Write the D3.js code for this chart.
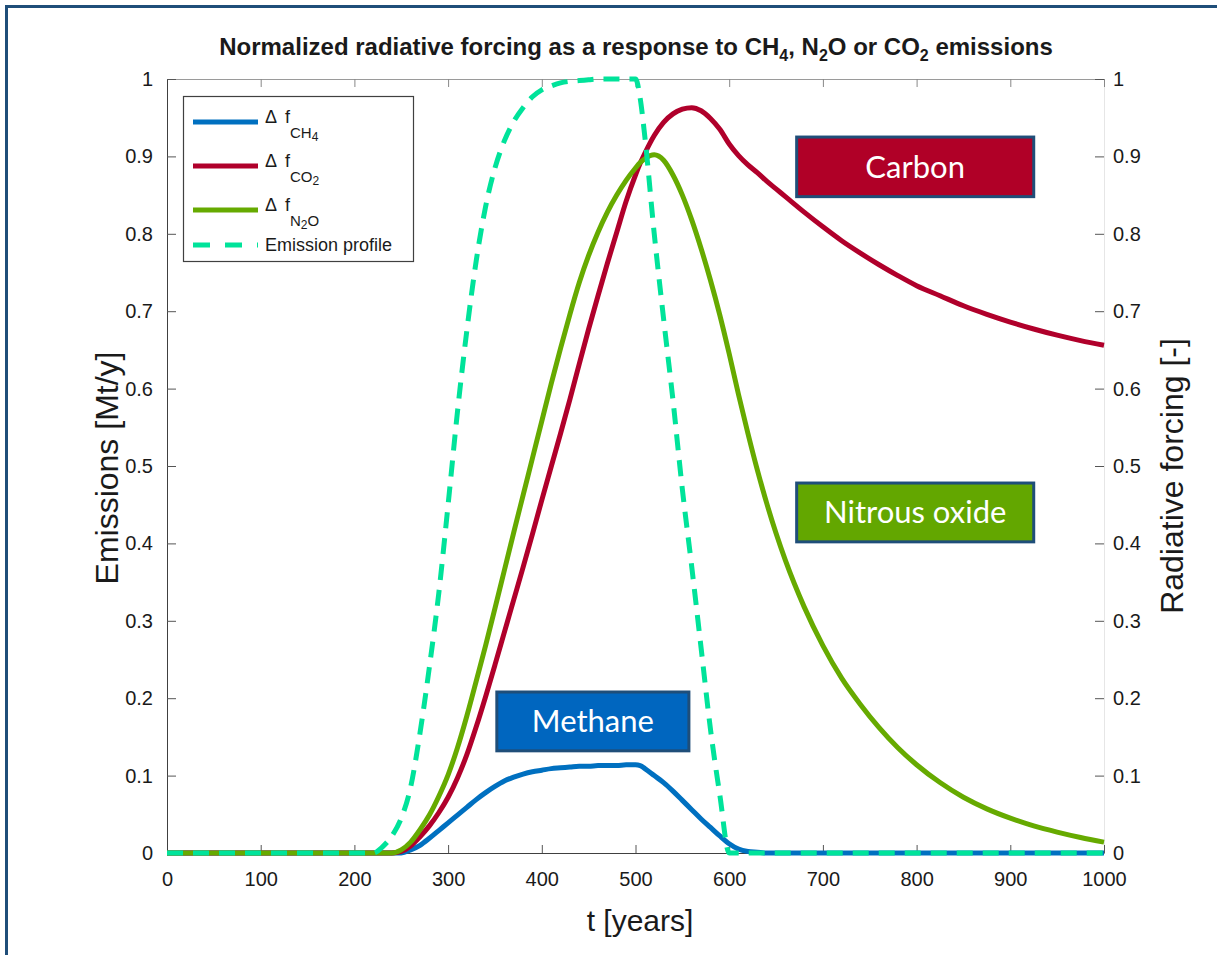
<!DOCTYPE html>
<html>
<head>
<meta charset="utf-8">
<style>
  body { margin: 0; background: #ffffff; }
  svg text { font-family: "Liberation Sans", Arial, Helvetica, sans-serif; fill: #1a1a1a; }
</style>
</head>
<body>
<svg id="chart"></svg>
<script src="https://d3js.org/d3.v7.min.js"></script>
<script>
  const WIDTH = 1217
  const HEIGHT = 955

  // time axis (years) shared by every series
  const years = [0, 200, 220, 230, 240, 250, 260, 270, 280, 290,
    300, 310, 320, 330, 340, 350, 360, 370, 380, 390,
    400, 410, 420, 430, 440, 450, 460, 470, 480, 490,
    500, 505, 510, 520, 530, 540, 550, 560, 570, 580,
    590, 600, 610, 620, 630, 640, 650, 660, 680, 700,
    720, 740, 760, 780, 800, 825, 850, 875, 900, 925,
    950, 975, 1000]

  const emission = [0, 0, 0, 0.008, 0.022, 0.045, 0.085, 0.155, 0.24, 0.335,
    0.45, 0.57, 0.675, 0.765, 0.835, 0.885, 0.92, 0.945, 0.963, 0.977,
    0.986, 0.991, 0.995, 0.997, 0.998, 0.999, 1, 1, 1, 1,
    1, 0.975, 0.925, 0.8, 0.69, 0.585, 0.47, 0.37, 0.265, 0.16,
    0.075, 0, 0, 0, 0, 0, 0, 0, 0, 0,
    0, 0, 0, 0, 0, 0, 0, 0, 0, 0,
    0, 0, 0]

  const ch4 = [0, 0, 0, 0, 0, 0, 0.004, 0.01, 0.019, 0.029,
    0.039, 0.049, 0.059, 0.069, 0.078, 0.086, 0.093, 0.098, 0.102, 0.105,
    0.107, 0.109, 0.110, 0.111, 0.112, 0.112, 0.113, 0.113, 0.113, 0.114,
    0.114, 0.113, 0.109, 0.1, 0.091, 0.08, 0.068, 0.056, 0.044, 0.033,
    0.022, 0.012, 0.005, 0.002, 0.001, 0, 0, 0, 0, 0,
    0, 0, 0, 0, 0, 0, 0, 0, 0, 0,
    0, 0, 0]

  const co2 = [0, 0, 0, 0, 0, 0.002, 0.009, 0.021, 0.035, 0.052,
    0.072, 0.097, 0.127, 0.163, 0.202, 0.243, 0.285, 0.327, 0.369, 0.412,
    0.456, 0.499, 0.542, 0.586, 0.632, 0.677, 0.72, 0.762, 0.802, 0.842,
    0.876, 0.891, 0.904, 0.927, 0.944, 0.955, 0.961, 0.963, 0.959, 0.949,
    0.935, 0.916, 0.901, 0.889, 0.879, 0.868, 0.858, 0.848, 0.828, 0.809,
    0.791, 0.775, 0.76, 0.746, 0.733, 0.72, 0.707, 0.696, 0.686, 0.677,
    0.669, 0.662, 0.656]

  const n2o = [0, 0, 0, 0, 0, 0.004, 0.014, 0.03, 0.049, 0.073,
    0.101, 0.136, 0.177, 0.222, 0.268, 0.316, 0.365, 0.414, 0.462, 0.51,
    0.558, 0.606, 0.652, 0.696, 0.737, 0.772, 0.802, 0.828, 0.85, 0.869,
    0.885, 0.892, 0.897, 0.902, 0.895, 0.876, 0.85, 0.818, 0.781, 0.74,
    0.695, 0.645, 0.592, 0.542, 0.495, 0.452, 0.413, 0.378, 0.318, 0.268,
    0.226, 0.192, 0.162, 0.136, 0.114, 0.091, 0.072, 0.057, 0.045, 0.035,
    0.027, 0.02, 0.014]

  const xTicks = [0, 100, 200, 300, 400, 500, 600, 700, 800, 900, 1000]
  const xTickLabels = ['0', '100', '200', '300', '400', '500', '600', '700', '800', '900', '1000']
  const yTicks = [0, 0.1, 0.2, 0.3, 0.4, 0.5, 0.6, 0.7, 0.8, 0.9, 1]
  const yTickLabels = ['0', '0.1', '0.2', '0.3', '0.4', '0.5', '0.6', '0.7', '0.8', '0.9', '1']

  const boxNames = ['Carbon', 'Nitrous oxide', 'Methane']

  const COLORS = {ch4: '#0070C0', co2: '#B0002B', n2o: '#66AA00', emis: '#00E39A'}
  const FRAME = '#1F4E79'

  let svg = d3.select('#chart')
    .attr('width', WIDTH)
    .attr('height', HEIGHT)

  const x = d3.scaleLinear().domain([0, 1000]).range([167, 1104])
  const y = d3.scaleLinear().domain([0, 1]).range([853, 79])

  // outer slide frame
  svg.append('rect')
    .attr('x', 6.5).attr('y', 6.5)
    .attr('width', 1400).attr('height', 1200)
    .attr('fill', 'none')
    .attr('stroke', FRAME)
    .attr('stroke-width', 3)

  // title with subscripts
  let title = svg.append('text')
    .attr('x', 636).attr('y', 55)
    .attr('text-anchor', 'middle')
    .style('font-size', '24px')
    .style('font-weight', 'bold')
  const titleParts = [['Normalized radiative forcing as a response to CH', 0], ['4', 1], [', N', 0],
    ['2', 1], ['O or CO', 0], ['2', 1], [' emissions', 0]]
  let lowered = false
  titleParts.forEach(function(p) {
    let ts = title.append('tspan').text(p[0])
    if (p[1]) {
      ts.attr('dy', 6).style('font-size', '16px')
      lowered = true
    } else if (lowered) {
      ts.attr('dy', -6)
      lowered = false
    }
  })

  // axes box lines
  svg.append('line').attr('x1', 167).attr('x2', 1104).attr('y1', 79.5).attr('y2', 79.5)
    .attr('stroke', '#9a9a9a')
  svg.append('line').attr('x1', 1104.5).attr('x2', 1104.5).attr('y1', 79).attr('y2', 853)
    .attr('stroke', '#e6e6e6')

  // ticks: inward, MATLAB style
  let bottomAxis = svg.append('g').attr('transform', 'translate(0,853)')
    .call(d3.axisBottom(x).tickValues(xTicks).tickSizeInner(-8).tickSizeOuter(0).tickPadding(19)
      .tickFormat((d, i) => xTickLabels[i]))
  let topAxis = svg.append('g').attr('transform', 'translate(0,79)')
    .call(d3.axisTop(x).tickValues(xTicks).tickSizeInner(-8).tickSizeOuter(0).tickFormat(''))
  let leftAxis = svg.append('g').attr('transform', 'translate(167,0)')
    .call(d3.axisLeft(y).tickValues(yTicks).tickSizeInner(-9).tickSizeOuter(0).tickPadding(14)
      .tickFormat((d, i) => yTickLabels[i]))
  let rightAxis = svg.append('g').attr('transform', 'translate(1104,0)')
    .call(d3.axisRight(y).tickValues(yTicks).tickSizeInner(-9).tickSizeOuter(0).tickPadding(9)
      .tickFormat((d, i) => yTickLabels[i]))

  bottomAxis.select('.domain').attr('stroke', '#404040')
  leftAxis.select('.domain').attr('stroke', '#404040')
  topAxis.select('.domain').remove()
  rightAxis.select('.domain').remove()
  svg.selectAll('.tick line').attr('stroke', '#555')
  topAxis.selectAll('.tick line').attr('stroke', '#888')
  svg.selectAll('.tick text')
    .style('font-size', '20px')
    .style('font-family', '"Liberation Sans", Arial, sans-serif')
    .attr('fill', '#1a1a1a')

  // axis titles
  svg.append('text')
    .attr('transform', 'translate(118,468) rotate(-90)')
    .attr('text-anchor', 'middle')
    .style('font-size', '32px')
    .text('Emissions [Mt/y]')
  svg.append('text')
    .attr('transform', 'translate(1183,476) rotate(-90)')
    .attr('text-anchor', 'middle')
    .style('font-size', '32px')
    .text('Radiative forcing [-]')
  svg.append('text')
    .attr('x', 640).attr('y', 931)
    .attr('text-anchor', 'middle')
    .style('font-size', '30px')
    .text('t [years]')

  // the curves
  const line = d3.line()
    .x((d, i) => x(years[i]))
    .y(d => y(d))
    .curve(d3.curveMonotoneX)

  function drawSeries(values, color, dash) {
    let p = svg.append('path')
      .attr('d', line(values))
      .attr('fill', 'none')
      .attr('stroke', color)
      .attr('stroke-width', 5)
      .attr('stroke-linejoin', 'round')
    if (dash) p.attr('stroke-dasharray', dash)
  }
  drawSeries(ch4, COLORS.ch4)
  drawSeries(co2, COLORS.co2)
  drawSeries(n2o, COLORS.n2o)
  drawSeries(emission, COLORS.emis, '16,10')

  // legend
  let legend = svg.append('g')
  legend.append('rect')
    .attr('x', 183.5).attr('y', 96.5)
    .attr('width', 230).attr('height', 165)
    .attr('fill', '#fff')
    .attr('stroke', '#404040')
    .attr('stroke-width', 1.2)

  const legendRows = [
    {color: COLORS.ch4, sub: 'CH', subsub: '4', y: 122},
    {color: COLORS.co2, sub: 'CO', subsub: '2', y: 166},
    {color: COLORS.n2o, sub: 'N', subsub: '2', tail: 'O', y: 210}
  ]
  legendRows.forEach(function(r) {
    legend.append('line')
      .attr('x1', 193).attr('x2', 258).attr('y1', r.y).attr('y2', r.y)
      .attr('stroke', r.color).attr('stroke-width', 5)
    let t = legend.append('text').attr('x', 265).attr('y', r.y + 1).style('font-size', '18px')
    t.append('tspan').text('\u0394')
    t.append('tspan').attr('x', 285).text('f')
    t.append('tspan').attr('dy', 15).style('font-size', '15px').text(r.sub)
    t.append('tspan').attr('dy', 3).style('font-size', '12px').text(r.subsub)
    if (r.tail) t.append('tspan').attr('dy', -3).style('font-size', '15px').text(r.tail)
  })
  legend.append('line')
    .attr('x1', 193).attr('x2', 258).attr('y1', 245).attr('y2', 245)
    .attr('stroke', COLORS.emis).attr('stroke-width', 5)
    .attr('stroke-dasharray', '17,15')
  legend.append('text')
    .attr('x', 265).attr('y', 251)
    .style('font-size', '18px')
    .text('Emission profile')

  // coloured annotation boxes, placed in data units
  const boxes = [
    {t0: 672, t1: 925, v0: 0.848, v1: 0.925, fill: '#B00027'},
    {t0: 672, t1: 925, v0: 0.402, v1: 0.478, fill: '#63A700'},
    {t0: 352, t1: 557, v0: 0.132, v1: 0.208, fill: '#0066BF'}
  ]
  boxes.forEach(function(b, i) {
    let bx = x(b.t0), bw = x(b.t1) - x(b.t0)
    let by = y(b.v1), bh = y(b.v0) - y(b.v1)
    svg.append('rect')
      .attr('x', bx).attr('y', by).attr('width', bw).attr('height', bh)
      .attr('fill', b.fill)
      .attr('stroke', FRAME).attr('stroke-width', 3)
    svg.append('text')
      .attr('x', bx + bw / 2).attr('y', by + bh / 2 + 11)
      .attr('text-anchor', 'middle')
      .style('font-family', 'Lato, "Open Sans", sans-serif')
      .style('font-size', '31px')
      .style('fill', '#ffffff')
      .text(boxNames[i])
  })
</script>
</body>
</html>
